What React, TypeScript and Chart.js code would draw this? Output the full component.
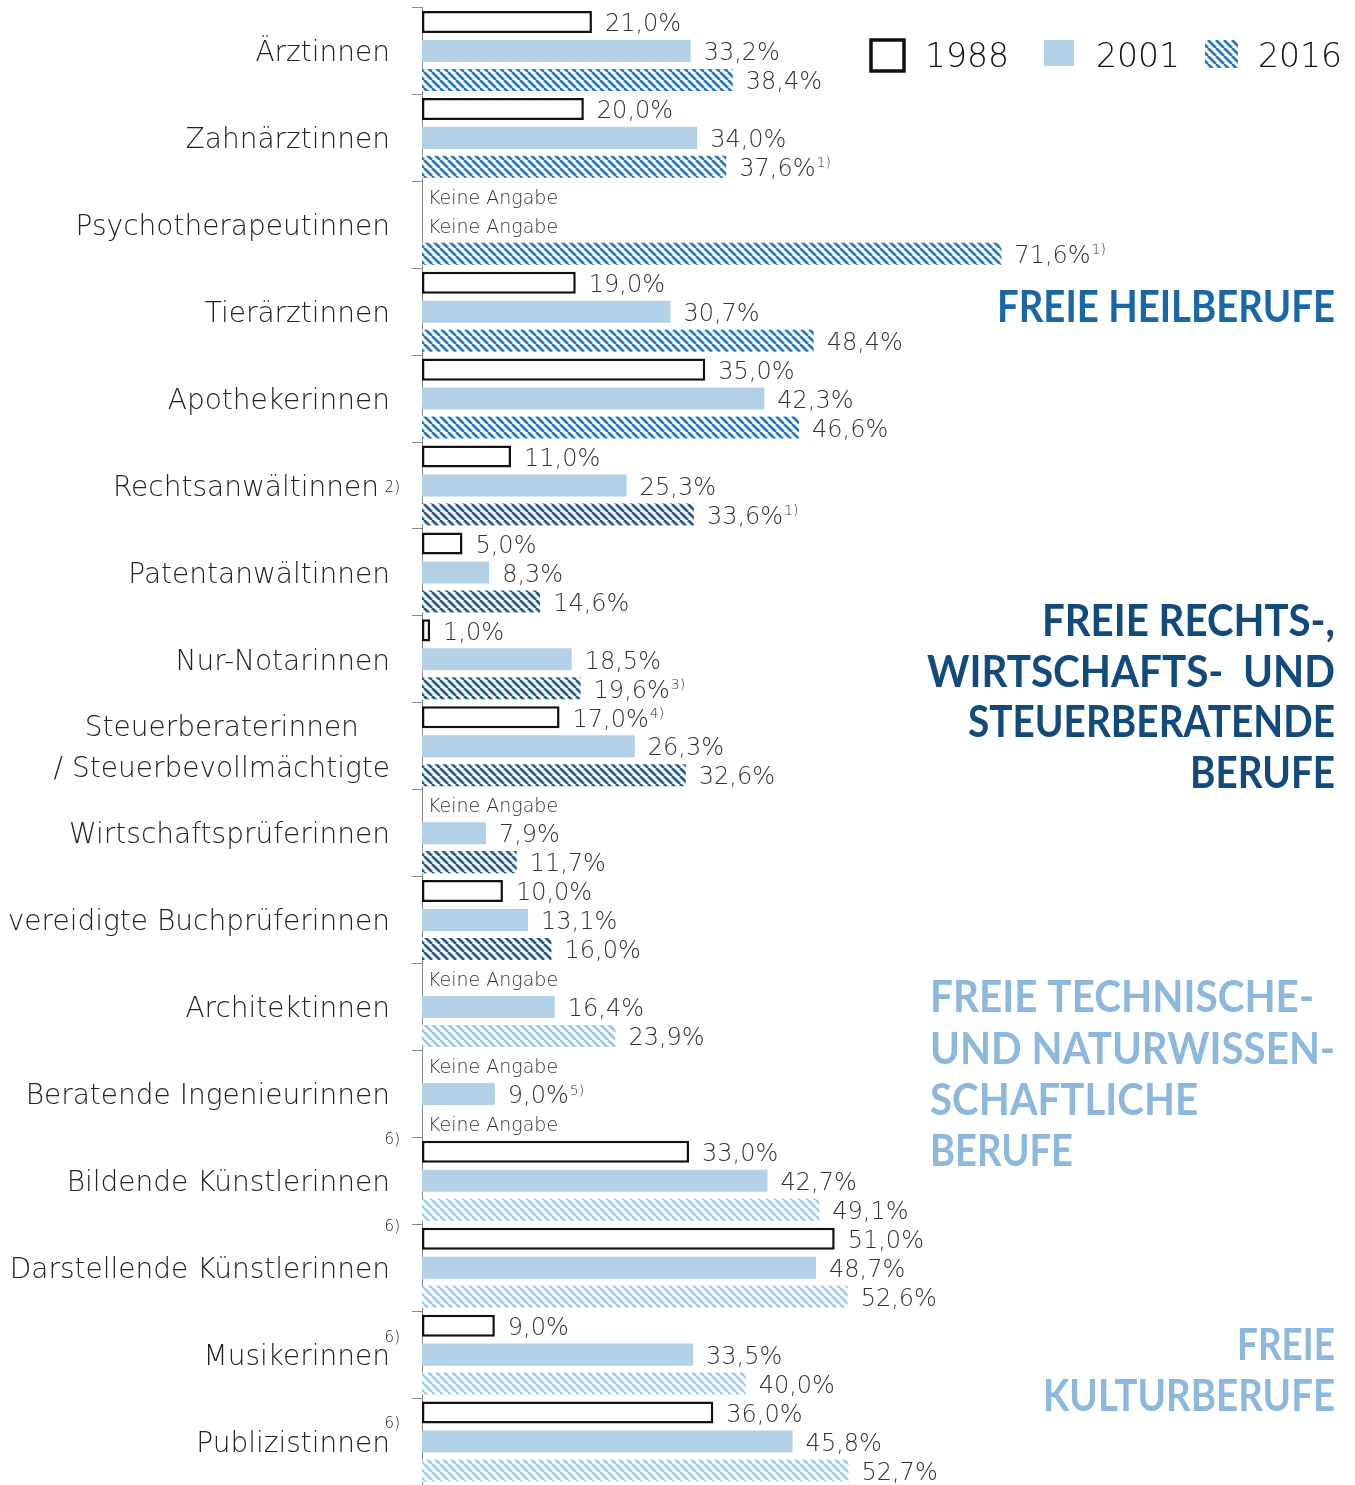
import React, { useEffect, useRef } from 'react';
import { Chart, registerables } from 'chart.js';

Chart.register(...registerables);

// ---------- data ----------
const categories: (string | string[])[] = [
  'Ärztinnen',
  'Zahnärztinnen',
  'Psychotherapeutinnen',
  'Tierärztinnen',
  'Apothekerinnen',
  'Rechtsanwältinnen',
  'Patentanwältinnen',
  'Nur-Notarinnen',
  ['Steuerberaterinnen', '/ Steuerbevollmächtigte'],
  'Wirtschaftsprüferinnen',
  'vereidigte Buchprüferinnen',
  'Architektinnen',
  'Beratende Ingenieurinnen',
  'Bildende Künstlerinnen',
  'Darstellende Künstlerinnen',
  'Musikerinnen',
  'Publizistinnen',
];
const categoryNotes = ['', '', '', '', '', '2)', '', '', '', '', '', '', '', '6)', '6)', '6)', '6)'];
const categoryNoteStyle = ['', '', '', '', '', 'inline', '', '', '', '', '', '', '', 'high', 'high', 'sup', 'sup'];

const seriesLabels = ['1988', '2001', '2016'];
const values1988: (number | null)[] = [21.0, 20.0, null, 19.0, 35.0, 11.0, 5.0, 1.0, 17.0, null, 10.0, null, null, 33.0, 51.0, 9.0, 36.0];
const values2001: (number | null)[] = [33.2, 34.0, null, 30.7, 42.3, 25.3, 8.3, 18.5, 26.3, 7.9, 13.1, 16.4, 9.0, 42.7, 48.7, 33.5, 45.8];
const values2016: (number | null)[] = [38.4, 37.6, 71.6, 48.4, 46.6, 33.6, 14.6, 19.6, 32.6, 11.7, 16.0, 23.9, null, 49.1, 52.6, 40.0, 52.7];
const notes1988 = ['', '', '', '', '', '', '', '', '4)', '', '', '', '', '', '', '', ''];
const notes2001 = ['', '', '', '', '', '', '', '', '', '', '', '', '5)', '', '', '', ''];
const notes2016 = ['', '1)', '1)', '', '', '1)', '', '3)', '', '', '', '', '', '', '', '', ''];
const missingText = 'Keine Angabe';

// group of each category (0 Heil, 1 Recht/Wirtschaft, 2 Technik, 3 Kultur)
const categoryGroup = [0, 0, 0, 0, 0, 1, 1, 1, 1, 1, 1, 2, 2, 3, 3, 3, 3];
const groupTitles = [
  ['FREIE HEILBERUFE'],
  ['FREIE RECHTS-,', 'WIRTSCHAFTS-  UND', 'STEUERBERATENDE', 'BERUFE'],
  ['FREIE TECHNISCHE-', 'UND NATURWISSEN-', 'SCHAFTLICHE', 'BERUFE'],
  ['FREIE', 'KULTURBERUFE'],
];

// ---------- styles ----------
const THIN = '"DejaVu Sans", Lato, sans-serif';
const BOLD = 'Lato, "Open Sans", sans-serif';
const hatchColors = ['#2478bd', '#215b92', '#96c9ee', '#9ccef2'];
const titleColors = ['#1a67a8', '#124a7c', '#8cb8de', '#8cb8de'];
const fill2001 = '#b3d1e6';

function makeHatch(color: string): CanvasPattern | string {
  const p = 8;
  const c = document.createElement('canvas');
  c.width = p;
  c.height = p;
  const g = c.getContext('2d');
  if (!g) return color;
  g.fillStyle = '#ffffff';
  g.fillRect(0, 0, p, p);
  g.strokeStyle = color;
  g.lineWidth = 2.7;
  g.beginPath();
  for (const k of [-p, 0, p]) {
    g.moveTo(k, 0);
    g.lineTo(k + p, p);
  }
  g.stroke();
  return g.createPattern(c, 'repeat') || color;
}

const fmt = (v: number) => v.toFixed(1).replace('.', ',') + '%';

export default function App() {
  const ref = useRef<HTMLCanvasElement | null>(null);

  useEffect(() => {
    const canvas = ref.current;
    if (!canvas) return;
    const patterns = hatchColors.map(makeHatch);
    const notes = [notes1988, notes2001, notes2016];

    const overlay = {
      id: 'overlay',
      afterDatasetsDraw(chart: any) {
        const ctx: CanvasRenderingContext2D = chart.ctx;
        const xs = chart.scales.x;
        const ys = chart.scales.y;
        const x0 = xs.getPixelForValue(0);
        ctx.save();
        ctx.textBaseline = 'middle';
        ctx.textAlign = 'left';
        chart.data.datasets.forEach((ds: any, di: number) => {
          const meta = chart.getDatasetMeta(di);
          meta.data.forEach((el: any, j: number) => {
            const v = ds.data[j];
            const y = el.y;
            if (v == null) {
              ctx.font = `200 19px ${THIN}`;
              ctx.fillStyle = '#333';
              ctx.fillText(missingText, x0 + 6, y + 3);
            } else {
              const t = fmt(v);
              const px = xs.getPixelForValue(v) + 13;
              ctx.font = `200 24px ${THIN}`;
              ctx.fillStyle = '#333';
              ctx.fillText(t, px, y + 3);
              const n = notes[di][j];
              if (n) {
                const w = ctx.measureText(t).width;
                ctx.font = `200 14px ${THIN}`;
                ctx.fillText(n, px + w + 1, y - 3);
              }
            }
          });
        });

        // category labels
        const right = 390;
        categories.forEach((lab, i) => {
          const cy = ys.getPixelForValue(i) + 3;
          ctx.fillStyle = '#222';
          ctx.font = `200 28px ${THIN}`;
          const note = categoryNotes[i];
          const style = categoryNoteStyle[i];
          if (Array.isArray(lab)) {
            ctx.textAlign = 'center';
            const widths = lab.map((l) => ctx.measureText(l).width);
            const maxW = Math.max(...widths);
            const cx = right - maxW / 2;
            const lh = 41;
            lab.forEach((l, k) => {
              ctx.fillText(l, cx, cy + (k - (lab.length - 1) / 2) * lh);
            });
          } else {
            ctx.textAlign = 'right';
            let r = right;
            if (note && style === 'inline') r = right - 11;
            ctx.fillText(lab, r, cy);
          }
          if (note) {
            ctx.font = `200 15px ${THIN}`;
            ctx.textAlign = 'right';
            let ny = cy;
            if (style === 'inline') ny = cy;
            if (style === 'high') ny = cy - 44;
            if (style === 'sup') ny = cy - 20;
            ctx.fillText(note, 400, ny);
          }
        });

        // group titles
        const specs = [
          { align: 'right', x: 1335, ys: [308], widths: [338] },
          { align: 'right', x: 1335, ys: [622, 673, 723, 774], widths: [293, 408, 367, 145] },
          { align: 'left', x: 930, ys: [998, 1050, 1101, 1152], widths: [384, 405, 268, 143] },
          { align: 'right', x: 1335, ys: [1346, 1397], widths: [98, 292] },
        ];
        groupTitles.forEach((lines, gi) => {
          const s = specs[gi];
          ctx.fillStyle = titleColors[gi];
          ctx.font = `bold 44px ${BOLD}`;
          ctx.textAlign = s.align as CanvasTextAlign;
          lines.forEach((l, k) => {
            ctx.fillText(l, s.x, s.ys[k], s.widths[k]);
          });
        });

        // legend
        ctx.lineWidth = 3.5;
        ctx.strokeStyle = '#111';
        ctx.strokeRect(871, 40, 33, 31);
        ctx.fillStyle = fill2001;
        ctx.fillRect(1044, 40, 30, 26);
        ctx.fillStyle = patterns[0] as any;
        ctx.fillRect(1205, 40, 33, 28);
        ctx.fillStyle = '#111';
        ctx.font = `200 33px ${THIN}`;
        ctx.textAlign = 'left';
        ctx.fillText(seriesLabels[0], 925, 58);
        ctx.fillText(seriesLabels[1], 1096, 58);
        ctx.fillText(seriesLabels[2], 1258, 58);
        ctx.restore();
      },
    };

    const chart = new Chart(canvas, {
      type: 'bar',
      data: {
        labels: categories as any,
        datasets: [
          {
            label: seriesLabels[0],
            data: values1988 as any,
            backgroundColor: '#ffffff',
            borderColor: '#111111',
            borderWidth: 2.5,
            borderSkipped: false,
          },
          {
            label: seriesLabels[1],
            data: values2001 as any,
            backgroundColor: fill2001,
            borderWidth: 0,
          },
          {
            label: seriesLabels[2],
            data: values2016 as any,
            backgroundColor: (c: any) => patterns[categoryGroup[c.dataIndex] ?? 0] as any,
            borderWidth: 0,
          },
        ],
      },
      options: {
        indexAxis: 'y',
        animation: false,
        responsive: false,
        devicePixelRatio: 1,
        layout: { padding: { top: 7.5, bottom: 0, left: 0, right: 0 } },
        plugins: { legend: { display: false }, tooltip: { enabled: false } },
        datasets: { bar: { categoryPercentage: 1, barPercentage: 0.76 } },
        scales: {
          x: { display: false, min: 0, max: 115.3 },
          y: {
            grid: {
              offset: true,
              drawOnChartArea: false,
              tickLength: 10,
              color: '#8a8a8a',
              tickColor: '#8a8a8a',
            },
            border: { color: '#8a8a8a', width: 1 },
            ticks: { display: false },
            afterFit: (s: any) => {
              s.width = 422;
            },
          },
        },
      } as any,
      plugins: [overlay],
    });
    return () => chart.destroy();
  }, []);

  return (
    <div style={{ position: 'absolute', left: 0, top: 0, width: 1355, height: 1485, background: '#fff' }}>
      <canvas ref={ref} width={1355} height={1485} style={{ display: 'block' }} />
    </div>
  );
}
